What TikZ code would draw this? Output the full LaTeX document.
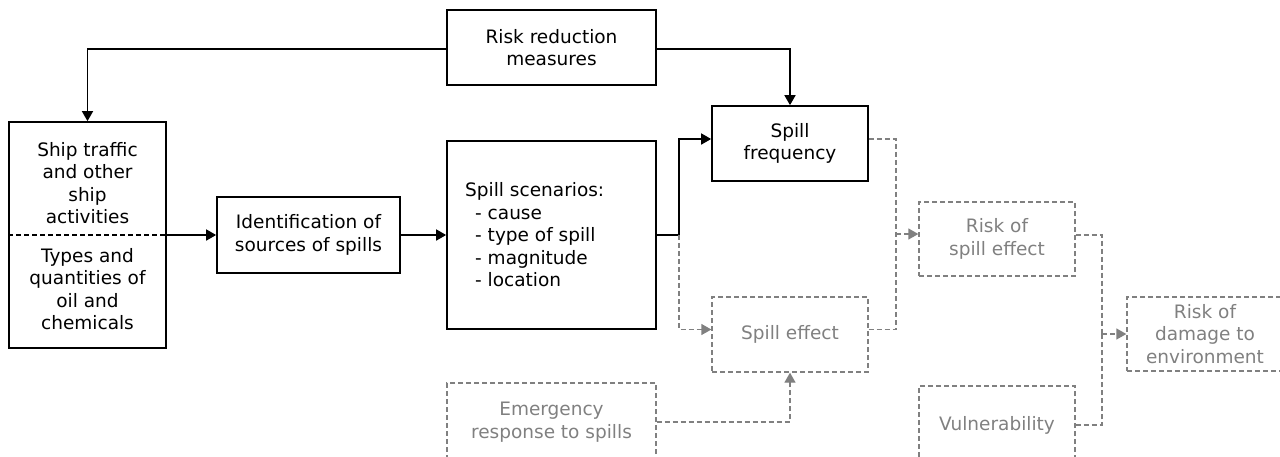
\documentclass[tikz,border=0pt]{standalone}
\usepackage{fontspec}
\setmainfont{DejaVu Sans}
\usetikzlibrary{arrows.meta,calc}
\definecolor{lgray}{RGB}{128,128,128}
\tikzset{
  box/.style={draw=black, line width=1.7pt, rectangle, inner sep=0pt, align=center,
    font=\fontsize{18.5pt}{22.5pt}\selectfont},
  gbox/.style={draw=lgray, line width=1.3pt, dash pattern=on 5pt off 3pt, rectangle, inner sep=0pt,
    align=center, text=lgray, font=\fontsize{18.5pt}{22.5pt}\selectfont},
  txt/.style={inner sep=0pt, align=center, font=\fontsize{18.5pt}{22.5pt}\selectfont},
  conn/.style={line width=1.7pt, -{Triangle[length=10pt,width=11pt]}},
  line/.style={line width=1.7pt},
  gconn/.style={draw=lgray, line width=1.3pt, dash pattern=on 5pt off 3pt, -{Triangle[length=10pt,width=11pt,fill=lgray]}},
  gline/.style={draw=lgray, line width=1.3pt, dash pattern=on 5pt off 3pt},
}
\begin{document}
\begin{tikzpicture}[x=1pt,y=-1pt]
\useasboundingbox (0,0) rectangle (1280,456);
\clip (0,0) rectangle (1280,456);
% nodes
\node[box, minimum width=157pt, minimum height=226pt] (ship) at (87.5,235) {};
\node[txt] (shipA) at (87.5,183) {Ship traffic\\and other\\ship\\activities};
\node[txt] (shipB) at (87.5,289) {Types and\\quantities of\\oil and\\chemicals};
\node[box, minimum width=183pt, minimum height=76pt] (ident) at (308.5,235) {Identification of\\sources of spills};
\node[box, minimum width=209pt, minimum height=188pt] (scen) at (551.5,235) {};
\node[txt, align=left, anchor=west] (scentext) at (465,235) {Spill scenarios:\\\hspace*{10pt}- cause\\\hspace*{10pt}- type of spill\\\hspace*{10pt}- magnitude\\\hspace*{10pt}- location};
\node[box, minimum width=209pt, minimum height=75pt] (rrm) at (551.5,47.5) {Risk reduction\\measures};
\node[box, minimum width=156pt, minimum height=75pt] (freq) at (790,143.5) {Spill\\frequency};
\node[gbox, minimum width=156pt, minimum height=75pt] (effect) at (790,334.5) {Spill effect};
\node[gbox, minimum width=209pt, minimum height=78pt] (emerg) at (551.5,422) {Emergency\\response to spills};
\node[gbox, minimum width=156pt, minimum height=74pt] (rse) at (997,239) {Risk of\\spill effect};
\node[gbox, minimum width=156pt, minimum height=74pt] (rde) at (1205,334) {Risk of\\damage to\\environment};
\node[gbox, minimum width=156pt, minimum height=78pt] (vuln) at (997,425) {Vulnerability};
% divider
\draw[line width=1.3pt, dash pattern=on 5pt off 3pt] (ship.west) -- (ship.east);
% black connectors
\draw[conn] ([yshift=-1.5pt]rrm.west) -| (ship.north);
\draw[conn] ([yshift=-1.5pt]rrm.east) -| (freq.north);
\draw[conn] (ship.east) -- (ident.west);
\draw[conn] (ident.east) -- (scen.west);
\coordinate (split) at (679,235);
\draw[line] (scen.east) -- (split);
\draw[conn] (split) |- ([yshift=4.5pt]freq.west);
% gray connectors
\draw[gconn] (split) |- ([yshift=5pt]effect.west);
\draw[gconn] (emerg.east) -| (effect.south);
\coordinate (j1) at (896,234);
\draw[gline] ([yshift=4.5pt]freq.east) -| (j1);
\draw[gline] ([yshift=5pt]effect.east) -| (j1);
\draw[gconn] (j1) -- ([yshift=5pt]rse.west);
\coordinate (j2) at (1102,334);
\draw[gline] ([yshift=4pt]rse.east) -| (j2);
\draw[gline] (vuln.east) -| (j2);
\draw[gconn] (j2) -- (rde.west);
\end{tikzpicture}
\end{document}
